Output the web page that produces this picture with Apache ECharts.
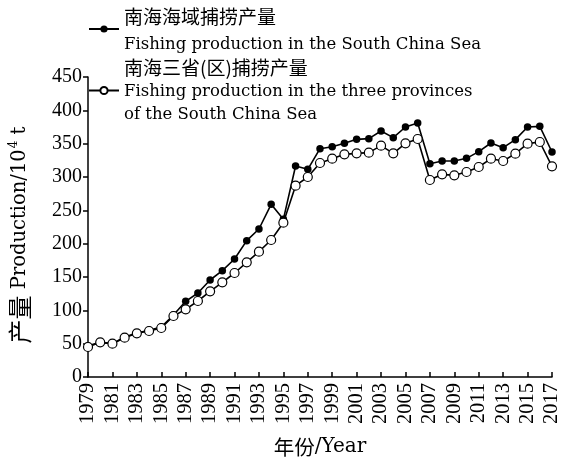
<!DOCTYPE html>
<html lang="zh-CN" style="height: 100%">
<head>
    <meta charset="utf-8">
    <script type="text/javascript" src="https://cdn.jsdelivr.net/npm/echarts@6/dist/echarts.min.js"></script>
</head>
<body style="height: 100%; margin: 0; background: #fff">
    <div id="container" style="width: 565px; height: 458px"></div>
    <script type="text/javascript">
        var years = [];
        for (var y = 1979; y <= 2017; y++) years.push(String(y));
        // 南海海域捕捞产量 (10^4 t)
        var seaCatch = [47, 52, 50, 60, 66, 70, 75, 93, 113.5, 126, 145.5, 159.5, 177, 204.5, 222,
            259, 236.5, 316.5, 311.5, 342.5, 345.5, 350.5, 356.5, 357.5, 369, 359, 375, 381,
            320, 324, 324, 328, 338, 351, 344, 356, 375, 376, 337.5];
        // 南海三省(区)捕捞产量 (10^4 t)
        var provCatch = [45, 52, 50, 59, 65.5, 69, 73.5, 91.5, 101.5, 114, 128.5, 142, 156, 172, 188,
            205.5, 231.5, 287, 300, 321, 327.5, 334, 335.5, 336.5, 347, 335.5, 350.5, 357,
            295.5, 304, 302.5, 307.5, 315, 327.5, 324, 335, 350, 352.5, 316];

        var seaName = '南海海域捕捞产量';
        var provName = '南海三省(区)捕捞产量';
        var legendText = {};
        legendText[seaName] = '{cn|南海海域捕捞产量}\n{en|Fishing production in the South China Sea}';
        legendText[provName] = '{cn|南海三省(区)捕捞产量}\n{en|Fishing production in the three provinces}\n{en|of the South China Sea}';

        var latin = 'DejaVu Serif, serif';
        var cjk = 'Noto Sans CJK SC, sans-serif';
        var digits = 'Liberation Serif, serif';

        function makeLegend(name, top, cnHeight, enHeight) {
            return {
                orient: 'vertical',
                left: 88,
                top: top,
                padding: 0,
                itemWidth: 30,
                itemHeight: 9,
                data: [name],
                formatter: function (n) { return legendText[n]; },
                textStyle: {
                    color: '#000',
                    rich: {
                        cn: { fontFamily: cjk, fontSize: 19, lineHeight: cnHeight, color: '#000' },
                        en: { fontFamily: latin, fontSize: 16.5, lineHeight: enHeight, color: '#000' }
                    }
                }
            };
        }

        var chart = echarts.init(document.getElementById('container'), null, { renderer: 'canvas' });
        var option = {
            animation: false,
            backgroundColor: '#fff',
            textStyle: { fontFamily: latin, color: '#000' },
            grid: { left: 88, right: 13, top: 77, bottom: 81, outerBoundsMode: 'none', containLabel: false },
            legend: [
                makeLegend(seaName, 7, 32, 25),
                makeLegend(provName, 58, 25, 23)
            ],
            xAxis: {
                type: 'category',
                data: years,
                boundaryGap: false,
                name: '{cn|年份}{en|/Year}',
                nameLocation: 'middle',
                nameGap: 60,
                nameTextStyle: {
                    color: '#000',
                    rich: {
                        cn: { fontFamily: cjk, fontSize: 20.5, color: '#000' },
                        en: { fontFamily: latin, fontSize: 20, color: '#000' }
                    }
                },
                axisLine: { lineStyle: { color: '#000', width: 1.5 } },
                axisTick: { inside: true, interval: 1, length: 5, lineStyle: { color: '#000', width: 1.5 } },
                axisLabel: { interval: 1, rotate: 90, margin: 6, fontSize: 20.5, color: '#000', fontFamily: digits }
            },
            yAxis: {
                type: 'value',
                min: 0,
                max: 450,
                interval: 50,
                name: '{cn|产量}{en| Production/10}{sup|4}{en| t}',
                nameLocation: 'middle',
                nameGap: 56,
                nameTextStyle: {
                    color: '#000',
                    padding: [0, 16, 0, 0],
                    rich: {
                        cn: { fontFamily: cjk, fontSize: 24, color: '#000' },
                        en: { fontFamily: latin, fontSize: 19.5, color: '#000' },
                        sup: { fontFamily: latin, fontSize: 12, verticalAlign: 'top', padding: [0, 0, 8, 1], color: '#000' }
                    }
                },
                splitLine: { show: false },
                axisLine: { show: true, lineStyle: { color: '#000', width: 1.5 } },
                axisTick: { show: true, length: 5, lineStyle: { color: '#000', width: 1.5 } },
                axisLabel: { margin: 6, fontSize: 20, color: '#000', fontFamily: digits }
            },
            series: [
                {
                    name: seaName,
                    type: 'line',
                    data: seaCatch,
                    symbol: 'circle',
                    symbolSize: 7.5,
                    showAllSymbol: true,
                    itemStyle: { color: '#000' },
                    lineStyle: { color: '#000', width: 1.6 }
                },
                {
                    name: provName,
                    type: 'line',
                    data: provCatch,
                    symbol: 'circle',
                    symbolSize: 9,
                    showAllSymbol: true,
                    itemStyle: { color: '#fff', borderColor: '#000', borderWidth: 1.2 },
                    lineStyle: { color: '#000', width: 1.6 }
                }
            ]
        };
        chart.setOption(option);
    </script>
</body>
</html>
